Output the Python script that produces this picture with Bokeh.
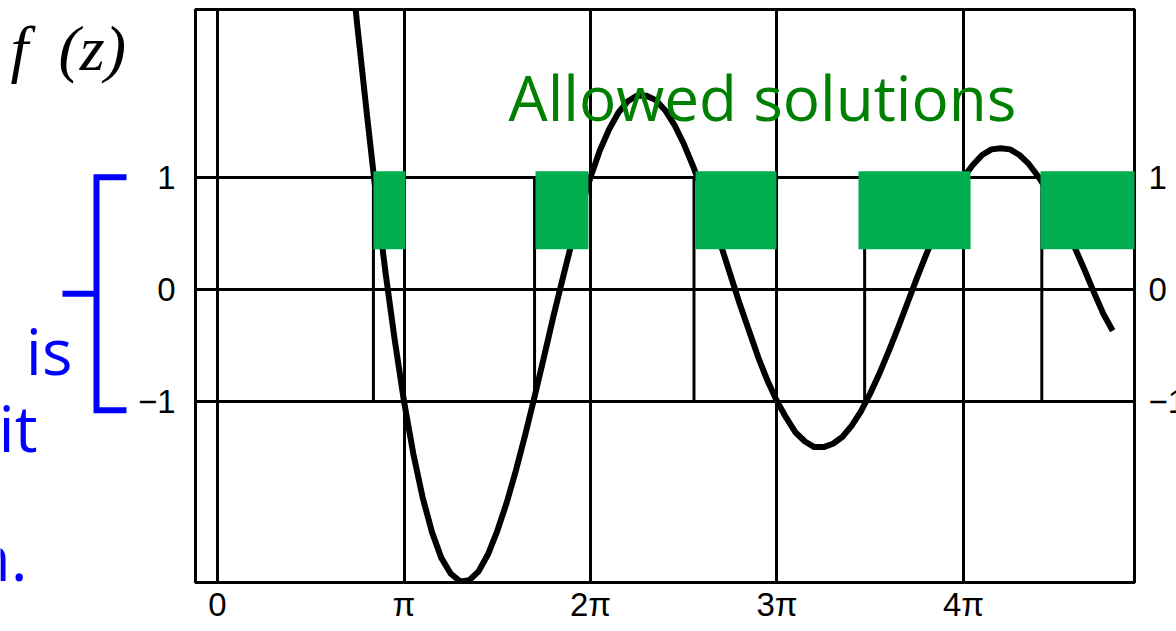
from bokeh.plotting import figure
from bokeh.layouts import row
from bokeh.models import Range1d, FixedTicker
from bokeh.core.properties import value
from bokeh.embed import file_html
from bokeh.resources import INLINE

# ---------------- data (z in units of pi) ----------------
z_pi = [0.70, 0.72, 0.75, 0.80, 0.85, 0.90, 0.95, 1.00, 1.05, 1.10, 1.15, 1.20,
        1.25, 1.30, 1.35, 1.40, 1.45, 1.50, 1.55, 1.60, 1.65, 1.70, 1.75, 1.80,
        1.85, 1.90, 1.95, 2.00, 2.05, 2.10, 2.15, 2.20, 2.25, 2.30, 2.35, 2.40,
        2.45, 2.50, 2.55, 2.60, 2.65, 2.70, 2.75, 2.80, 2.85, 2.90, 2.95, 3.00,
        3.05, 3.10, 3.15, 3.20, 3.25, 3.30, 3.35, 3.40, 3.45, 3.50, 3.55, 3.60,
        3.65, 3.70, 3.75, 3.80, 3.85, 3.90, 3.95, 4.00, 4.05, 4.10, 4.15, 4.20,
        4.25, 4.30, 4.35, 4.40, 4.45, 4.50, 4.55, 4.60, 4.65, 4.70, 4.75, 4.80]
f_vals = [3.16, 2.84, 2.35, 1.58, 0.84, 0.16, -0.45, -1.00, -1.47, -1.86, -2.17, -2.40,
          -2.54, -2.61, -2.60, -2.52, -2.37, -2.16, -1.91, -1.62, -1.30, -0.96, -0.61, -0.25,
          0.09, 0.42, 0.73, 1.00, 1.24, 1.43, 1.58, 1.68, 1.73, 1.73, 1.69, 1.60,
          1.47, 1.30, 1.10, 0.88, 0.64, 0.39, 0.13, -0.13, -0.37, -0.61, -0.82, -1.00,
          -1.15, -1.28, -1.36, -1.41, -1.41, -1.38, -1.32, -1.22, -1.09, -0.93, -0.75, -0.55,
          -0.34, -0.12, 0.10, 0.31, 0.51, 0.69, 0.86, 1.00, 1.11, 1.20, 1.25, 1.26,
          1.25, 1.20, 1.12, 1.01, 0.88, 0.72, 0.55, 0.36, 0.17, -0.03, -0.22, -0.37]

band_edges = [0.836, 1.70, 2.555, 3.47, 4.42]        # f = +-1 crossings
band_lo = [-1, -1, -1, -1, -1]
band_hi = [1, 1, 1, 1, 1]

allowed_left = [0.836, 1.705, 2.563, 3.437, 4.413]
allowed_right = [1.008, 1.989, 2.997, 4.038, 4.93]
allowed_top = [1.054, 1.054, 1.054, 1.054, 1.054]
allowed_bottom = [0.357, 0.357, 0.357, 0.357, 0.357]

x_ticks = [0, 1, 2, 3, 4]
x_tick_labels = ["0", "π", "2π", "3π", "4π"]
y_ticks = [-1, 0, 1]
y_tick_labels = ["−1", "0", "1"]

W, H = 1176, 631
LEFT_W, RIGHT_W = 130, 40
MAIN_W = W - LEFT_W - RIGHT_W
TICK_FONT = "Liberation Sans"
TICK_SIZE = "33px"
GREEN_RECT = "#00AE50"
GREEN_TEXT = "#008000"
BLUE = "#0000FF"

# ---------------- main plot ----------------
p = figure(width=MAIN_W, height=H, x_range=Range1d(-0.118, 4.917), y_range=Range1d(-2.62, 2.5),
           toolbar_location=None, output_backend="svg",
           min_border_left=65, min_border_right=2, min_border_top=9, min_border_bottom=49)
p.background_fill_color = "white"
p.border_fill_color = "white"
p.outline_line_color = "black"
p.outline_line_width = 3

p.xaxis.ticker = FixedTicker(ticks=x_ticks)
p.yaxis.ticker = FixedTicker(ticks=y_ticks)
p.xgrid.ticker = FixedTicker(ticks=x_ticks)
p.ygrid.ticker = FixedTicker(ticks=y_ticks)
p.xaxis.major_label_overrides = {t: l for t, l in zip(x_ticks, x_tick_labels)}
p.yaxis.major_label_overrides = {t: l for t, l in zip(y_ticks, y_tick_labels)}
for ax in (p.xaxis, p.yaxis):
    ax.axis_line_color = None
    ax.major_tick_line_color = None
    ax.minor_tick_line_color = None
    ax.major_tick_out = 0
    ax.major_tick_in = 0
    ax.minor_tick_out = 0
    ax.minor_tick_in = 0
    ax.major_label_text_font = TICK_FONT
    ax.major_label_text_font_size = TICK_SIZE
    ax.major_label_text_color = "black"
p.xaxis.major_label_standoff = 3
p.yaxis.major_label_standoff = 20

for g in (p.xgrid, p.ygrid):
    g.grid_line_color = "black"
    g.grid_line_width = 3
    g.grid_line_alpha = 1.0

p.segment(x0=band_edges, y0=band_lo, x1=band_edges, y1=band_hi, line_color="black", line_width=3)
p.line(z_pi, f_vals, line_color="black", line_width=6, line_join="round")
p.quad(left=allowed_left, right=allowed_right, top=allowed_top, bottom=allowed_bottom,
       fill_color=GREEN_RECT, line_color=None)
p.text(x=[1.56], y=[1.72], text=["Allowed solutions"], text_font=value("Open Sans"),
       text_font_size="62px", text_color=GREEN_TEXT, text_align="left",
       text_baseline="middle")

# ---------------- left decoration panel (x in pixels, y shared) ----------------
lp = figure(width=LEFT_W, height=H, x_range=Range1d(0, LEFT_W), y_range=p.y_range,
            toolbar_location=None, output_backend="svg",
            x_axis_location=None, y_axis_location=None,
            min_border_left=0, min_border_right=0, min_border_top=9, min_border_bottom=49)
lp.grid.visible = False
lp.outline_line_color = None
lp.background_fill_color = "white"
lp.border_fill_color = "white"

lp.text(x=[10, 58], y=[2.15, 2.15], text=["f", "(z)"], text_font=value("Liberation Serif"),
        text_font_style="italic", text_font_size="64px", text_color="black",
        text_align="left", text_baseline="middle")
lp.line([126, 96, 96, 126], [1.0, 1.0, -1.08, -1.08], line_color=BLUE, line_width=6,
        line_join="miter")
lp.line([62, 96], [-0.04, -0.04], line_color=BLUE, line_width=6)
lp.text(x=[72, 37, 27], y=[-0.547, -1.235, -2.39], text=["is", "it", "n."],
        text_font=value("Open Sans"), text_font_size="64px", text_color=BLUE,
        text_align="right", text_baseline="middle")

# ---------------- right tick labels panel ----------------
rp = figure(width=RIGHT_W, height=H, x_range=Range1d(0, RIGHT_W), y_range=p.y_range,
            toolbar_location=None, output_backend="svg",
            x_axis_location=None, y_axis_location=None,
            min_border_left=0, min_border_right=0, min_border_top=9, min_border_bottom=49)
rp.grid.visible = False
rp.outline_line_color = None
rp.background_fill_color = "white"
rp.border_fill_color = "white"
rp.text(x=[12, 12, 12], y=y_ticks, text=y_tick_labels, text_font=value(TICK_FONT),
        text_font_size=TICK_SIZE, text_color="black", text_align="left",
        text_baseline="middle")

layout = row(lp, p, rp)
open("out.html", "w").write(file_html(layout, INLINE))
